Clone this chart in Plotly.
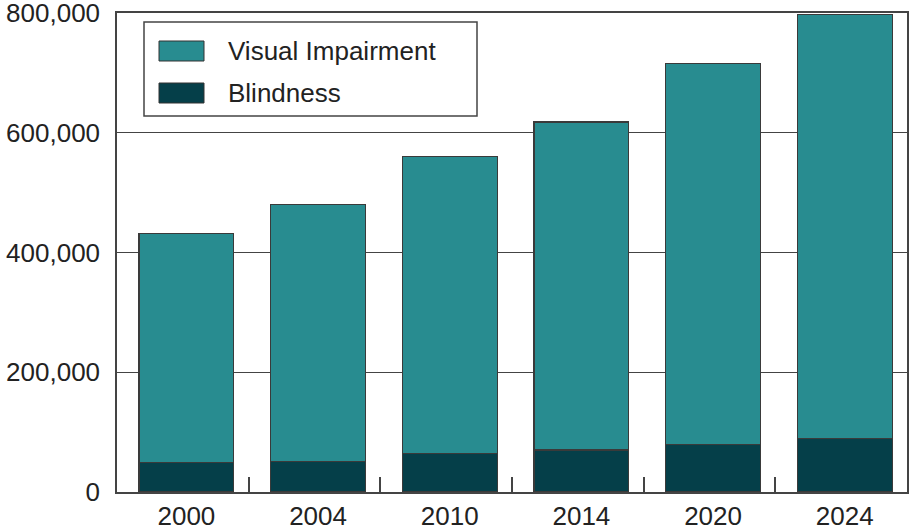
import plotly.graph_objects as go

years = ["2000", "2004", "2010", "2014", "2020", "2024"]
blindness = [49000, 51000, 64000, 70000, 80000, 89000]
visual_impairment = [383000, 429000, 496000, 548000, 635000, 708000]
y_ticks = [0, 200000, 400000, 600000, 800000]

teal = "#288C90"
dark = "#053F49"
edge = "#3a3a3a"
font = "Liberation Sans, Arial, sans-serif"

fig = go.Figure()
fig.add_trace(go.Bar(x=years, y=blindness, name="Blindness",
                     marker=dict(color=dark, line=dict(color=edge, width=1.2))))
fig.add_trace(go.Bar(x=years, y=visual_impairment, name="Visual Impairment",
                     marker=dict(color=teal, line=dict(color=edge, width=1.2))))
# empty helper trace so the boundary-tick axis is drawn
fig.add_trace(go.Scatter(x=[None], y=[None], xaxis="x2", yaxis="y",
                         mode="markers", showlegend=False, hoverinfo="skip"))

n = len(years)
fig.update_layout(
    barmode="stack",
    bargap=0.28,
    width=909, height=527,
    margin=dict(l=117, r=2, t=13, b=35),
    plot_bgcolor="white", paper_bgcolor="white",
    showlegend=False,
    font=dict(family=font, size=26, color="#222"),
    xaxis=dict(type="category", range=[-0.527, n - 0.527],
               showline=True, linecolor="#444", linewidth=1.5, mirror=True,
               ticks="", ticklabelstandoff=0, showgrid=False, automargin=False,
               ticklabeloverflow="allow"),
    xaxis2=dict(overlaying="x", side="bottom", anchor="y", range=[-0.5, n - 0.5],
                tickvals=[i + 0.5 for i in range(n - 1)], showticklabels=False,
                ticks="inside", ticklen=15, tickcolor="#444", tickwidth=1.5,
                showline=False, showgrid=False, zeroline=False, automargin=False),
)
fig.update_yaxes(
    range=[0, 800000], tickvals=y_ticks, tickformat=",d",
    showline=True, linecolor="#444", linewidth=1.5, mirror=True,
    showgrid=True, gridcolor="#444", gridwidth=1, zeroline=False,
    ticks="", ticklabelstandoff=10, automargin=False, ticklabeloverflow="allow",
)

# legend box drawn as decoration
fig.add_shape(type="rect", xref="paper", yref="paper",
              x0=(144-117)/790, x1=(477-117)/790, y0=(492-116)/479, y1=(492-22)/479,
              line=dict(color="#444", width=1.5), fillcolor="white", layer="above")
legend_items = [("Visual Impairment", teal, 51), ("Blindness", dark, 93)]
for label, color, yc in legend_items:
    fig.add_shape(type="rect", xref="paper", yref="paper",
                  x0=(159-117)/790, x1=(204-117)/790,
                  y0=(492-(yc+10))/479, y1=(492-(yc-10))/479,
                  line=dict(color="#333", width=1), fillcolor=color, layer="above")
    fig.add_annotation(xref="paper", yref="paper", x=(226-117)/790, y=(492-yc)/479,
                       text=label, showarrow=False, xanchor="left", yanchor="middle",
                       font=dict(family=font, size=26, color="#222"))

fig.write_html("out.html", config={"displayModeBar": False},
               post_script="document.body.style.margin='0';document.body.style.overflow='hidden';")
